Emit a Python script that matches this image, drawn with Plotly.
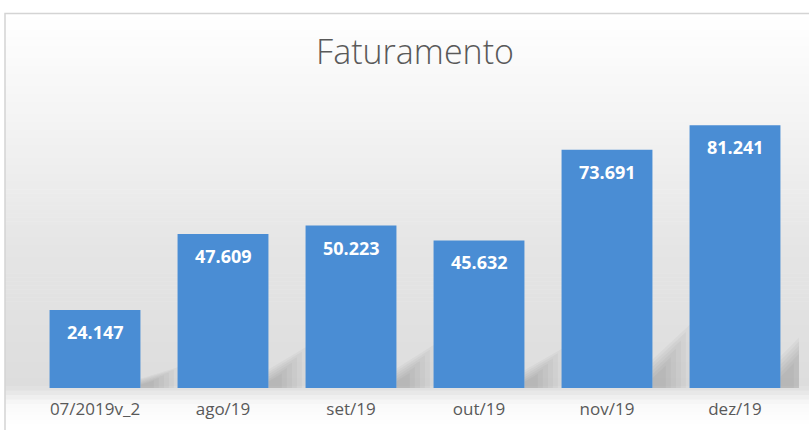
import plotly.graph_objects as go

# dados do grafico
meses = ['07/2019v_2', 'ago/19', 'set/19', 'out/19', 'nov/19', 'dez/19']
faturamento = [24147, 47609, 50223, 45632, 73691, 81241]
rotulos = ['24.147', '47.609', '50.223', '45.632', '73.691', '81.241']

W, H = 809, 430
ML, MR, MT, MB = 31, 10, 97, 40
GAP = 0.29


def py(p):
    # pixel y -> paper y
    return (H - MB - p) / (H - MT - MB)


def px_(p):
    # pixel x -> paper x
    return (p - ML) / (W - ML - MR)


def mix(c1, c2, t):
    return 'rgb(%d,%d,%d)' % tuple(round(a + (b - a) * t) for a, b in zip(c1, c2))


fig = go.Figure()
fig.add_trace(go.Bar(
    x=meses, y=faturamento,
    marker=dict(color='#4a8dd4', line=dict(width=0)),
    hoverinfo='x+y', showlegend=False,
))

# rotulos de dados dentro do topo das barras
for m, v, r in zip(meses, faturamento, rotulos):
    fig.add_annotation(x=m, y=v, text='<b>' + r + '</b>', showarrow=False,
                       yanchor='middle', yshift=-22,
                       font=dict(family='Open Sans', size=18, color='white'))

# fundo em degrade (aproximado com faixas)
shapes = []
stops = [(13, (255, 255, 255)), (90, (247, 247, 247)), (250, (229, 229, 229)),
         (388, (221, 221, 221)), (406, (250, 250, 250)), (430, (255, 255, 255))]
for (y0, c0), (y1, c1) in zip(stops[:-1], stops[1:]):
    n = max(1, int((y1 - y0) / 4))
    for i in range(n):
        a = y0 + (y1 - y0) * i / n
        b = y0 + (y1 - y0) * (i + 1) / n
        shapes.append(dict(type='rect', xref='paper', yref='paper', layer='below',
                           x0=px_(5), x1=px_(812), y0=py(b + 0.5), y1=py(a),
                           fillcolor=mix(c0, c1, (i + 0.5) / n), line=dict(width=0)))

# sombra das barras (varias camadas translucidas, imitando o desfoque)
half = (1 - GAP) / 2
for i, v in enumerate(faturamento):
    r = i + half
    for k in range(6):
        s = 1 - k * 0.13
        path = 'M %f,0 L %f,%f L %f,%f L %f,0 Z' % (
            r, r, v * 0.12 * s, r + 0.30 * s, v * 0.27 * s, r + 0.30 * s)
        shapes.append(dict(type='path', xref='x', yref='y', layer='below', path=path,
                           fillcolor='rgba(80,80,80,0.045)', line=dict(width=0)))

# borda do grafico
shapes.append(dict(type='rect', xref='paper', yref='paper', layer='below',
                   x0=px_(5), x1=px_(815), y0=py(440), y1=py(13),
                   fillcolor='rgba(0,0,0,0)', line=dict(color='#d4d4d4', width=1.5)))

fig.update_layout(
    width=W, height=H,
    margin=dict(l=ML, r=MR, t=MT, b=MB),
    paper_bgcolor='white', plot_bgcolor='rgba(0,0,0,0)',
    title=dict(text='Faturamento', x=0.513, xanchor='center', y=0.88, yanchor='middle',
               font=dict(family='Open Sans', size=34, color='#595959', weight=300)),
    bargap=GAP,
    shapes=shapes,
    xaxis=dict(range=[-0.5, len(meses) - 0.5], showgrid=False, showline=False,
               zeroline=False, ticks='', ticklabelstandoff=9,
               tickfont=dict(family='Open Sans', size=17, color='#595959')),
    yaxis=dict(visible=False, range=[0, 90000], showgrid=False, zeroline=False),
)

# tira a margem padrao do body para o grafico ocupar a janela toda
fig.write_html("out.html", config={'displayModeBar': False},
               post_script="document.body.style.margin='0';")
